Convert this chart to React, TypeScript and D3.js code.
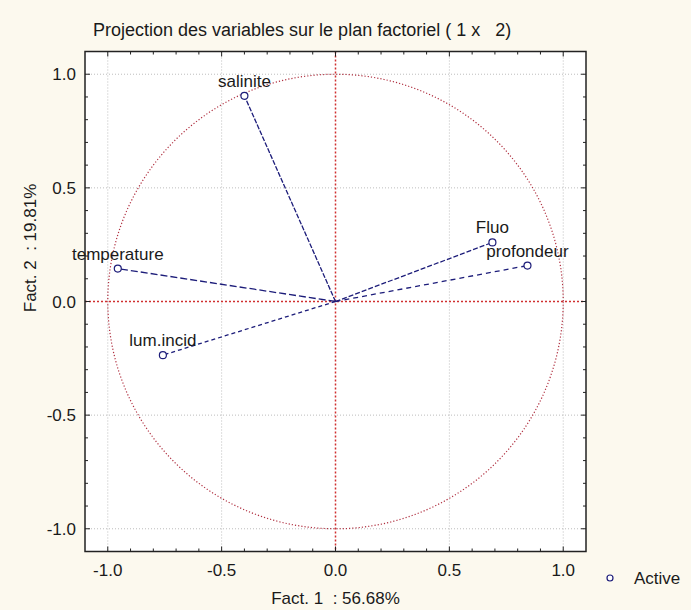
import React from 'react';
import * as d3 from 'd3';

const variables = ['salinite', 'temperature', 'lum.incid', 'Fluo', 'profondeur'];
const fact1 = [-0.4, -0.956, -0.758, 0.689, 0.843];
const fact2 = [0.905, 0.145, -0.236, 0.26, 0.158];
const majorTicks = [-1, -0.5, 0, 0.5, 1];
const tickLabels = ['-1.0', '-0.5', '0.0', '0.5', '1.0'];
const chartTitle = 'Projection des variables sur le plan factoriel ( 1 x   2)';
const xTitle = 'Fact. 1  : 56.68%';
const yTitle = 'Fact. 2  : 19.81%';
const legendLabel = 'Active';

const dashes: Record<string, string> = {
  salinite: '5,1.5',
  temperature: '7,3',
  'lum.incid': '4,3',
  Fluo: '5,2',
  profondeur: '5,4',
};

const W = 691;
const H = 610;
const BG = '#fcf9ee';
const NAVY = '#1d1d7a';
const RED = '#d03030';
const FONT = '"Liberation Sans", Arial, sans-serif';
const TXT = '#1a1a1a';

export default function App() {
  const x = d3.scaleLinear().domain([-1.1, 1.1]).range([85, 586]);
  const y = d3.scaleLinear().domain([-1.1, 1.1]).range([551.5, 51.5]);
  const minor = d3.range(-10, 11).map((i) => i / 10);
  const [x0, x1] = x.range();
  const [y0, y1] = [y.range()[1], y.range()[0]];
  const rx = x(1) - x(0);
  const ry = y(0) - y(1);
  const pts = variables.map((v, i) => ({ v, fx: fact1[i], fy: fact2[i] }));

  return (
    <svg
      width={W}
      height={H}
      style={{ position: 'absolute', left: 0, top: 0, background: BG }}
      fontFamily={FONT}
    >
      <rect x={0} y={0} width={W} height={H} fill={BG} />
      <text x={93} y={36} fontSize={18} fill={TXT} style={{ whiteSpace: 'pre' }}>
        {chartTitle}
      </text>
      <rect x={x0} y={y0} width={x1 - x0} height={y1 - y0} fill="#ffffff" />
      {/* grid */}
      {majorTicks
        .filter((t) => t !== 0)
        .map((t) => (
          <g key={'g' + t}>
            <line x1={x(t)} x2={x(t)} y1={y0} y2={y1} stroke="#bdbdbd" strokeWidth={1} strokeDasharray="1,2" />
            <line x1={x0} x2={x1} y1={y(t)} y2={y(t)} stroke="#bdbdbd" strokeWidth={1} strokeDasharray="1,2" />
          </g>
        ))}
      {/* zero lines */}
      <line x1={x(0)} x2={x(0)} y1={y0} y2={y1} stroke={RED} strokeWidth={1.5} strokeDasharray="2,2" />
      <line x1={x0} x2={x1} y1={y(0)} y2={y(0)} stroke={RED} strokeWidth={1.5} strokeDasharray="2,2" />
      {/* unit circle */}
      <ellipse cx={x(0)} cy={y(0)} rx={rx} ry={ry} fill="none" stroke="#b03040" strokeWidth={1.2} strokeDasharray="1.2,2" />
      {/* vectors */}
      {pts.map((p) => (
        <line
          key={'l' + p.v}
          x1={x(0)}
          y1={y(0)}
          x2={x(p.fx)}
          y2={y(p.fy)}
          stroke={NAVY}
          strokeWidth={1.3}
          strokeDasharray={dashes[p.v]}
        />
      ))}
      {pts.map((p) => (
        <circle key={'c' + p.v} cx={x(p.fx)} cy={y(p.fy)} r={3.5} fill="#ffffff" stroke={NAVY} strokeWidth={1.2} />
      ))}
      {pts.map((p) => (
        <text key={'t' + p.v} x={x(p.fx)} y={y(p.fy) - 9} fontSize={17} fill={TXT} textAnchor="middle">
          {p.v}
        </text>
      ))}
      {/* frame */}
      <rect x={x0} y={y0} width={x1 - x0} height={y1 - y0} fill="none" stroke="#222" strokeWidth={1.5} />
      {/* ticks */}
      {minor.map((t) => {
        const major = Math.abs(t * 2 - Math.round(t * 2)) < 1e-9;
        const L = major ? 5 : 3;
        return (
          <g key={'tk' + t} stroke="#222" strokeWidth={1}>
            <line x1={x(t)} x2={x(t)} y1={y1} y2={y1 - L} />
            <line x1={x(t)} x2={x(t)} y1={y0} y2={y0 + L} />
            <line x1={x0} x2={x0 + L} y1={y(t)} y2={y(t)} />
            <line x1={x1} x2={x1 - L} y1={y(t)} y2={y(t)} />
          </g>
        );
      })}
      {majorTicks.map((t, i) => (
        <text key={'xl' + t} x={x(t)} y={576} fontSize={17} fill={TXT} textAnchor="middle">
          {tickLabels[i]}
        </text>
      ))}
      {majorTicks.map((t, i) => (
        <text key={'yl' + t} x={76} y={y(t) + 6} fontSize={17} fill={TXT} textAnchor="end">
          {tickLabels[i]}
        </text>
      ))}
      <text x={x(0)} y={604} fontSize={17} fill={TXT} textAnchor="middle" style={{ whiteSpace: 'pre' }}>
        {xTitle}
      </text>
      <text
        transform={`translate(36, 248) rotate(-90)`}
        fontSize={17}
        fill={TXT}
        textAnchor="middle"
        style={{ whiteSpace: 'pre' }}
      >
        {yTitle}
      </text>
      {/* legend */}
      <circle cx={610} cy={578} r={3} fill="#ffffff" stroke={NAVY} strokeWidth={1.2} />
      <text x={634} y={584} fontSize={17} fill={TXT}>
        {legendLabel}
      </text>
    </svg>
  );
}
